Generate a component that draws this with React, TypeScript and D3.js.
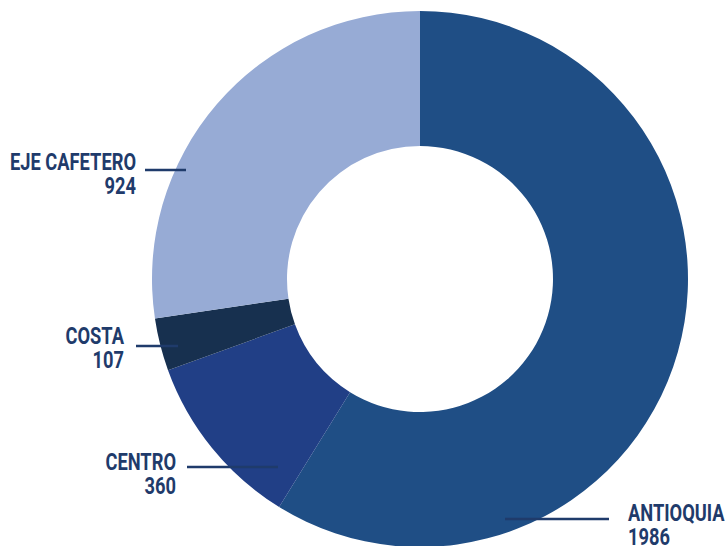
import { useEffect, useRef } from 'react'
import * as d3 from 'd3'

const REGIONS = ['ANTIOQUIA', 'CENTRO', 'COSTA', 'EJE CAFETERO']
const VALUES = [1986, 360, 107, 924]
const COLORS = ['#1f4e85', '#213f86', '#17304f', '#97abd5']

// label placement: text anchor point + leader line (x1 -> x2 at y)
const LABEL_LAYOUT = [
  { tx: 628, ty: 521, anchor: 'start', x1: 505, x2: 609, ly: 519 },
  { tx: 176, ty: 470, anchor: 'end', x1: 187, x2: 278, ly: 467 },
  { tx: 124, ty: 344, anchor: 'end', x1: 136, x2: 178, ly: 346 },
  { tx: 136, ty: 170, anchor: 'end', x1: 145, x2: 186, ly: 170 },
]

const W = 727
const H = 546

export default function App() {
  const svgRef = useRef<SVGSVGElement>(null)

  useEffect(() => {
    if (!svgRef.current) return
    const svg = d3.select(svgRef.current)
    svg.selectAll('*').remove()

    const cx = 420
    const cy = 279
    const outer = 268
    const inner = 133

    const data = REGIONS.map((name, i) => ({ name, value: VALUES[i], color: COLORS[i] }))

    const pie = d3.pie<any>().value((d) => d.value).sort(null)
    const arc = d3.arc<any>().innerRadius(inner).outerRadius(outer)

    const g = svg.append('g').attr('transform', `translate(${cx},${cy})`)
    g.selectAll('path')
      .data(pie(data))
      .enter()
      .append('path')
      .attr('d', arc)
      .attr('fill', (d) => d.data.color)

    const labels = svg.append('g')
    const texts: any[] = []
    data.forEach((d, i) => {
      const l = LABEL_LAYOUT[i]
      labels.append('line')
        .attr('x1', l.x1)
        .attr('x2', l.x2)
        .attr('y1', l.ly)
        .attr('y2', l.ly)
        .attr('stroke', '#1f3b6b')
        .attr('stroke-width', 2.5)
      const tg = labels.append('g').attr('transform', `translate(${l.tx},${l.ty})`)
      const t = tg.append('text')
        .attr('text-anchor', l.anchor)
        .attr('fill', '#1f3b6b')
        .attr('font-family', 'Roboto, sans-serif')
        .attr('font-weight', 700)
        .attr('font-size', 24)
      t.append('tspan').attr('x', 0).text(d.name)
      t.append('tspan').attr('x', 0).attr('dy', 24).text(d.value)
      texts.push({ tg, t, l })
    })

    // condensed look: squeeze so "EJE CAFETERO" spans ~126px like the source
    const ref = texts[3].t.select('tspan').node() as SVGTSpanElement
    const sx = 126 / ref.getComputedTextLength()
    texts.forEach(({ tg, l }) => {
      tg.attr('transform', `translate(${l.tx},${l.ty}) scale(${sx},1)`)
    })
  }, [])

  return (
    <svg
      ref={svgRef}
      width={W}
      height={H}
      style={{ position: 'absolute', left: 0, top: 0, background: '#fff' }}
    />
  )
}
